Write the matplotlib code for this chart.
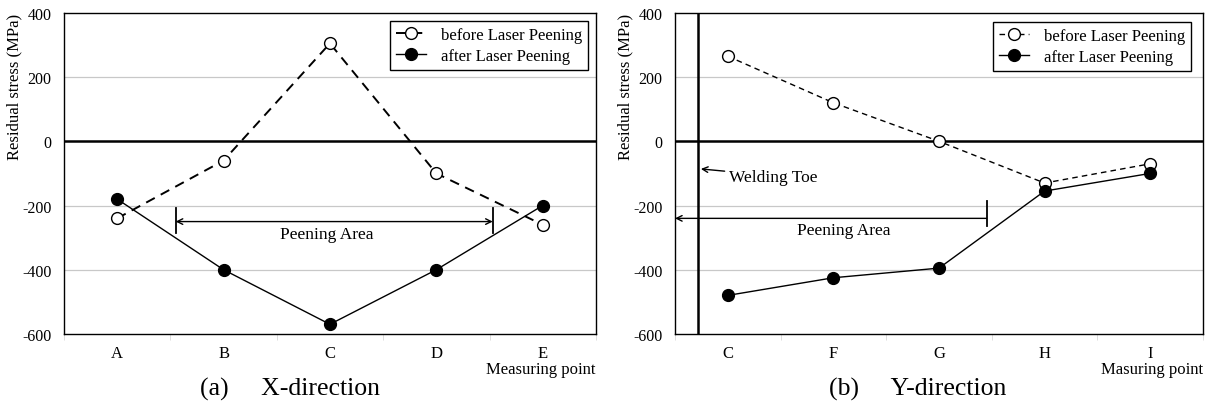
import numpy as np
import matplotlib.pyplot as plt

plt.rcParams['font.family'] = ['Liberation Serif', 'DejaVu Serif']
plt.rcParams['axes.unicode_minus'] = False

# X-direction
x_pts = ['A', 'B', 'C', 'D', 'E']
x_before = [-240, -60, 305, -100, -260]
x_after = [-180, -400, -570, -400, -200]

# Y-direction
y_pts = ['C', 'F', 'G', 'H', 'I']
y_before = [265, 120, 0, -130, -70]
y_after = [-480, -425, -395, -155, -100]

fig = plt.figure(figsize=(12.11, 4.14), dpi=100)
ax1 = fig.add_axes([0.0528, 0.191, 0.4393, 0.7754])
ax2 = fig.add_axes([0.5574, 0.191, 0.436, 0.7754])


def style_axes(ax, labels, xlabel):
    pos = np.arange(len(labels)) + 0.5
    ax.set_xlim(0, len(labels))
    ax.set_ylim(-600, 400)
    ax.set_yticks([-600, -400, -200, 0, 200, 400])
    ax.set_xticks(pos)
    ax.set_xticklabels(labels, fontsize=12)
    ax.set_xticks(np.arange(len(labels) + 1), minor=True)
    ax.tick_params(axis='x', which='major', length=0, pad=8)
    ax.tick_params(axis='x', which='minor', length=4, color='#d8d8d8')
    ax.tick_params(axis='y', length=0, pad=9, labelsize=11.5)
    for y in [200, -200, -400]:
        ax.axhline(y, color='#c8c8c8', lw=0.9, zorder=0)
    ax.axhline(0, color='black', lw=1.8, zorder=1)
    for s in ax.spines.values():
        s.set_linewidth(1.0)
    ax.set_xlabel(xlabel, fontsize=12, loc='right', labelpad=0)
    ax.set_ylabel('Residual stress (MPa)', fontsize=12, loc='top')
    ax.yaxis.set_label_coords(-0.078, 1.0)
    return pos


# (a) X-direction
pos = style_axes(ax1, x_pts, 'Measuring point')
ax1.plot(pos, x_before, '--o', color='black', lw=1.4, dashes=(5, 3.5), ms=8.5,
         mfc='white', mec='black', mew=1.0, label='before Laser Peening', zorder=3)
ax1.plot(pos, x_after, '-o', color='black', lw=1.0, ms=8.5,
         mfc='black', mec='black', label='after Laser Peening', zorder=3)
ax1.annotate('', xy=(1.05, -250), xytext=(4.03, -250),
             arrowprops=dict(arrowstyle='<->', lw=1.0, color='black',
                             shrinkA=0, shrinkB=0))
ax1.plot([1.05, 1.05], [-209, -286], color='black', lw=1.3)
ax1.plot([4.03, 4.03], [-209, -286], color='black', lw=1.3)
ax1.text(2.47, -290, 'Peening Area', ha='center', va='center', fontsize=12.5)
leg1 = ax1.legend(loc='upper right', bbox_to_anchor=(0.985, 0.975), fontsize=12,
                  frameon=True, fancybox=False, edgecolor='black', framealpha=1,
                  handlelength=1.8, handletextpad=0.9, borderpad=0.35,
                  labelspacing=0.3, borderaxespad=0)
leg1.get_frame().set_linewidth(1.0)

# (b) Y-direction
pos = style_axes(ax2, y_pts, 'Masuring point')
ax2.plot(pos, y_before, '--o', color='black', lw=1.0, dashes=(4, 3), ms=8.5,
         mfc='white', mec='black', mew=1.0, label='before Laser Peening', zorder=3)
ax2.plot(pos, y_after, '-o', color='black', lw=1.0, ms=8.5,
         mfc='black', mec='black', label='after Laser Peening', zorder=3)
ax2.axvline(0.22, color='black', lw=1.8, zorder=2)
ax2.annotate('', xy=(0.245, -86), xytext=(0.47, -93),
             arrowprops=dict(arrowstyle='->', lw=1.0, color='black',
                             shrinkA=0, shrinkB=0))
ax2.text(0.51, -110, 'Welding Toe', ha='left', va='center', fontsize=12.5)
ax2.annotate('', xy=(0.0, -240), xytext=(2.95, -240),
             arrowprops=dict(arrowstyle='->', lw=1.0, color='black',
                             shrinkA=0, shrinkB=0))
ax2.plot([2.95, 2.95], [-187, -265], color='black', lw=1.3)
ax2.text(1.60, -275, 'Peening Area', ha='center', va='center', fontsize=12.5)
leg2 = ax2.legend(loc='upper right', bbox_to_anchor=(0.977, 0.972), fontsize=12,
                  frameon=True, fancybox=False, edgecolor='black', framealpha=1,
                  handlelength=1.8, handletextpad=0.9, borderpad=0.35,
                  labelspacing=0.3, borderaxespad=0)
leg2.get_frame().set_linewidth(1.0)

fig.text(0.2395, 0.06, '(a)     X-direction', ha='center', va='center', fontsize=18.5)
fig.text(0.758, 0.06, '(b)     Y-direction', ha='center', va='center', fontsize=18.5)

fig.savefig('out.png', dpi=100)
